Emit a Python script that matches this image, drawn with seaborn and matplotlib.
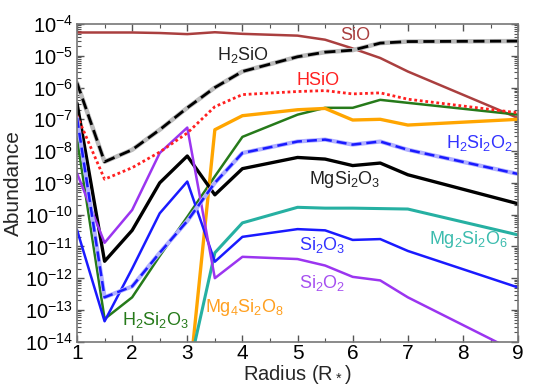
import numpy as np
import pandas as pd
import matplotlib
matplotlib.use("Agg")
import matplotlib.pyplot as plt
import matplotlib.ticker as mticker
import seaborn as sns

# radius grid (stellar radii)
radius = [1, 1.5, 2, 2.5, 3, 3.5, 4, 5, 5.5, 6, 6.5, 7, 9]

# abundances
sio = [5.4e-5, 5.4e-5, 5.4e-5, 5.2e-5, 4.8e-5, 5.5e-5, 4.9e-5, 4.3e-5, 3.2e-5, 1.7e-5, 8.5e-6, 3.2e-6, 1.1e-7]
h2sio = [1.4e-6, 4.6e-9, 1.1e-8, 4.7e-8, 2.3e-7, 1.0e-6, 3.2e-6, 9.3e-6, 1.3e-5, 1.5e-5, 2.5e-5, 2.8e-5, 2.9e-5]
hsio = [1.3e-7, 1.3e-9, 3.0e-9, 9.3e-9, 3.7e-8, 2.5e-7, 6.0e-7, 7.5e-7, 8.0e-7, 6.3e-7, 6.8e-7, 4.3e-7, 1.6e-7]
h2si2o2 = [1.1e-7, 2.5e-13, 5.5e-13, 6.3e-12, 6.3e-11, 1.0e-9, 8.7e-9, 2.0e-8, 2.3e-8, 1.6e-8, 2.0e-8, 1.1e-8, 1.9e-9]
mgsi2o3 = [3.2e-7, 3.4e-12, 3.2e-11, 1.0e-9, 7.0e-9, 4.2e-10, 2.8e-9, 6.3e-9, 5.6e-9, 3.5e-9, 4.2e-9, 1.8e-9, 2.2e-10]
h2si2o3 = [2.5e-8, 5.2e-14, 2.5e-13, 5.0e-12, 8.5e-11, 1.6e-9, 2.8e-8, 1.4e-7, 2.3e-7, 2.3e-7, 4.1e-7, 3.3e-7, 1.4e-7]
mg4si2o8 = [np.nan, np.nan, np.nan, np.nan, 1.5e-16, 4.7e-8, 1.3e-7, 2.0e-7, 2.2e-7, 9.5e-8, 1.0e-7, 6.6e-8, 1.0e-7]
mg2si2o6 = [np.nan, np.nan, np.nan, np.nan, 8e-16, 6.3e-12, 5.5e-11, 1.7e-10, 1.6e-10, 1.6e-10, 1.55e-10, 1.5e-10, 2.3e-11]
si2o3 = [3.3e-11, 4.4e-14, 2.0e-12, 1.1e-10, 1.1e-9, 3.3e-12, 2.0e-11, 3.5e-11, 3.2e-11, 1.6e-11, 1.7e-11, 7.2e-12, 5.1e-13]
si2o2 = [2.0e-9, 1.3e-11, 1.4e-10, 8.7e-9, 5.5e-8, 1.0e-12, 4.7e-12, 4.0e-12, 2.5e-12, 1.1e-12, 8.5e-13, 2.5e-13, 4.5e-15]

sns.set_style("ticks")
plt.rcParams['font.family'] = ['Liberation Sans', 'DejaVu Sans']
plt.rcParams['mathtext.default'] = 'regular'

fig, ax = plt.subplots(figsize=(5.33, 3.87), dpi=100)
fig.subplots_adjust(left=0.1445, right=0.972, top=0.938, bottom=0.117)

# solid lines
solid = [
    (sio, '#aa3f3f', 1.8),
    (h2si2o3, '#267a1a', 1.8),
    (mg4si2o8, '#ffa500', 2.4),
    (mgsi2o3, '#000000', 2.4),
    (mg2si2o6, '#26b0a2', 2.2),
    (si2o3, '#1a1aff', 1.8),
    (si2o2, '#9b35f0', 1.8),
]
for vals, col, lw in solid:
    sns.lineplot(x=radius, y=vals, ax=ax, color=col, lw=lw)

# dashed / dotted lines
sns.lineplot(x=radius, y=h2sio, ax=ax, color='#bbbbbb', lw=3.2)
sns.lineplot(x=radius, y=h2sio, ax=ax, color='black', lw=2.0, linestyle=(0, (4, 2)))
sns.lineplot(x=radius, y=hsio, ax=ax, color='#ff2020', lw=2.0, linestyle=(0, (1, 1)))
sns.lineplot(x=radius, y=h2si2o2, ax=ax, color='#b0b0ff', lw=3.0)
sns.lineplot(x=radius, y=h2si2o2, ax=ax, color='#1a1aff', lw=1.8, linestyle=(0, (4, 2)))

ax.set_yscale('log')
ax.set_xlim(1, 9)
ax.set_ylim(1e-14, 1e-4)
ax.yaxis.set_major_locator(mticker.LogLocator(base=10, numticks=20))
ax.yaxis.set_minor_locator(mticker.LogLocator(base=10, subs=np.arange(2, 10), numticks=100))
ax.yaxis.set_minor_formatter(mticker.NullFormatter())
ax.xaxis.set_major_locator(mticker.MultipleLocator(1))
ax.xaxis.set_minor_locator(mticker.MultipleLocator(0.5))

ax.tick_params(which='both', direction='in', top=True, right=True, colors='#555555',
               labelcolor='black', labelsize=15)
ax.tick_params(which='major', length=5, width=1)
ax.tick_params(which='minor', length=3, width=0.8)
ax.tick_params(axis='y', pad=3, labelsize=14.5)
ax.tick_params(axis='x', pad=2)
for sp in ax.spines.values():
    sp.set_color('#777777')
    sp.set_linewidth(1.2)

ax.set_xlabel('Radius (R$_*$)', fontsize=14.5, labelpad=0)
ax.set_ylabel('Abundance', fontsize=15, labelpad=1)

# species labels
labels = [
    (6.05, 4.5e-5, 'SiO', '#aa3f3f'),
    (4.0, 1.07e-5, 'H$_2$SiO', '#222222'),
    (5.37, 1.7e-6, 'HSiO', '#ff2020'),
    (8.3, 1.8e-8, 'H$_2$Si$_2$O$_2$', '#3333ff'),
    (5.86, 1.25e-9, 'MgSi$_2$O$_3$', '#222222'),
    (8.1, 1.6e-11, 'Mg$_2$Si$_2$O$_6$', '#3cbcae'),
    (5.45, 1.1e-11, 'Si$_2$O$_3$', '#3333ff'),
    (5.45, 7.2e-13, 'Si$_2$O$_2$', '#a650f0'),
    (2.42, 5.0e-14, 'H$_2$Si$_2$O$_3$', '#267a1a'),
    (4.03, 1.2e-13, 'Mg$_4$Si$_2$O$_8$', '#ffa020'),
]
for x, y, txt, col in labels:
    ax.text(x, y, txt, color=col, fontsize=13, ha='center', va='center')

plt.savefig('out.png', dpi=100)
plt.close()
